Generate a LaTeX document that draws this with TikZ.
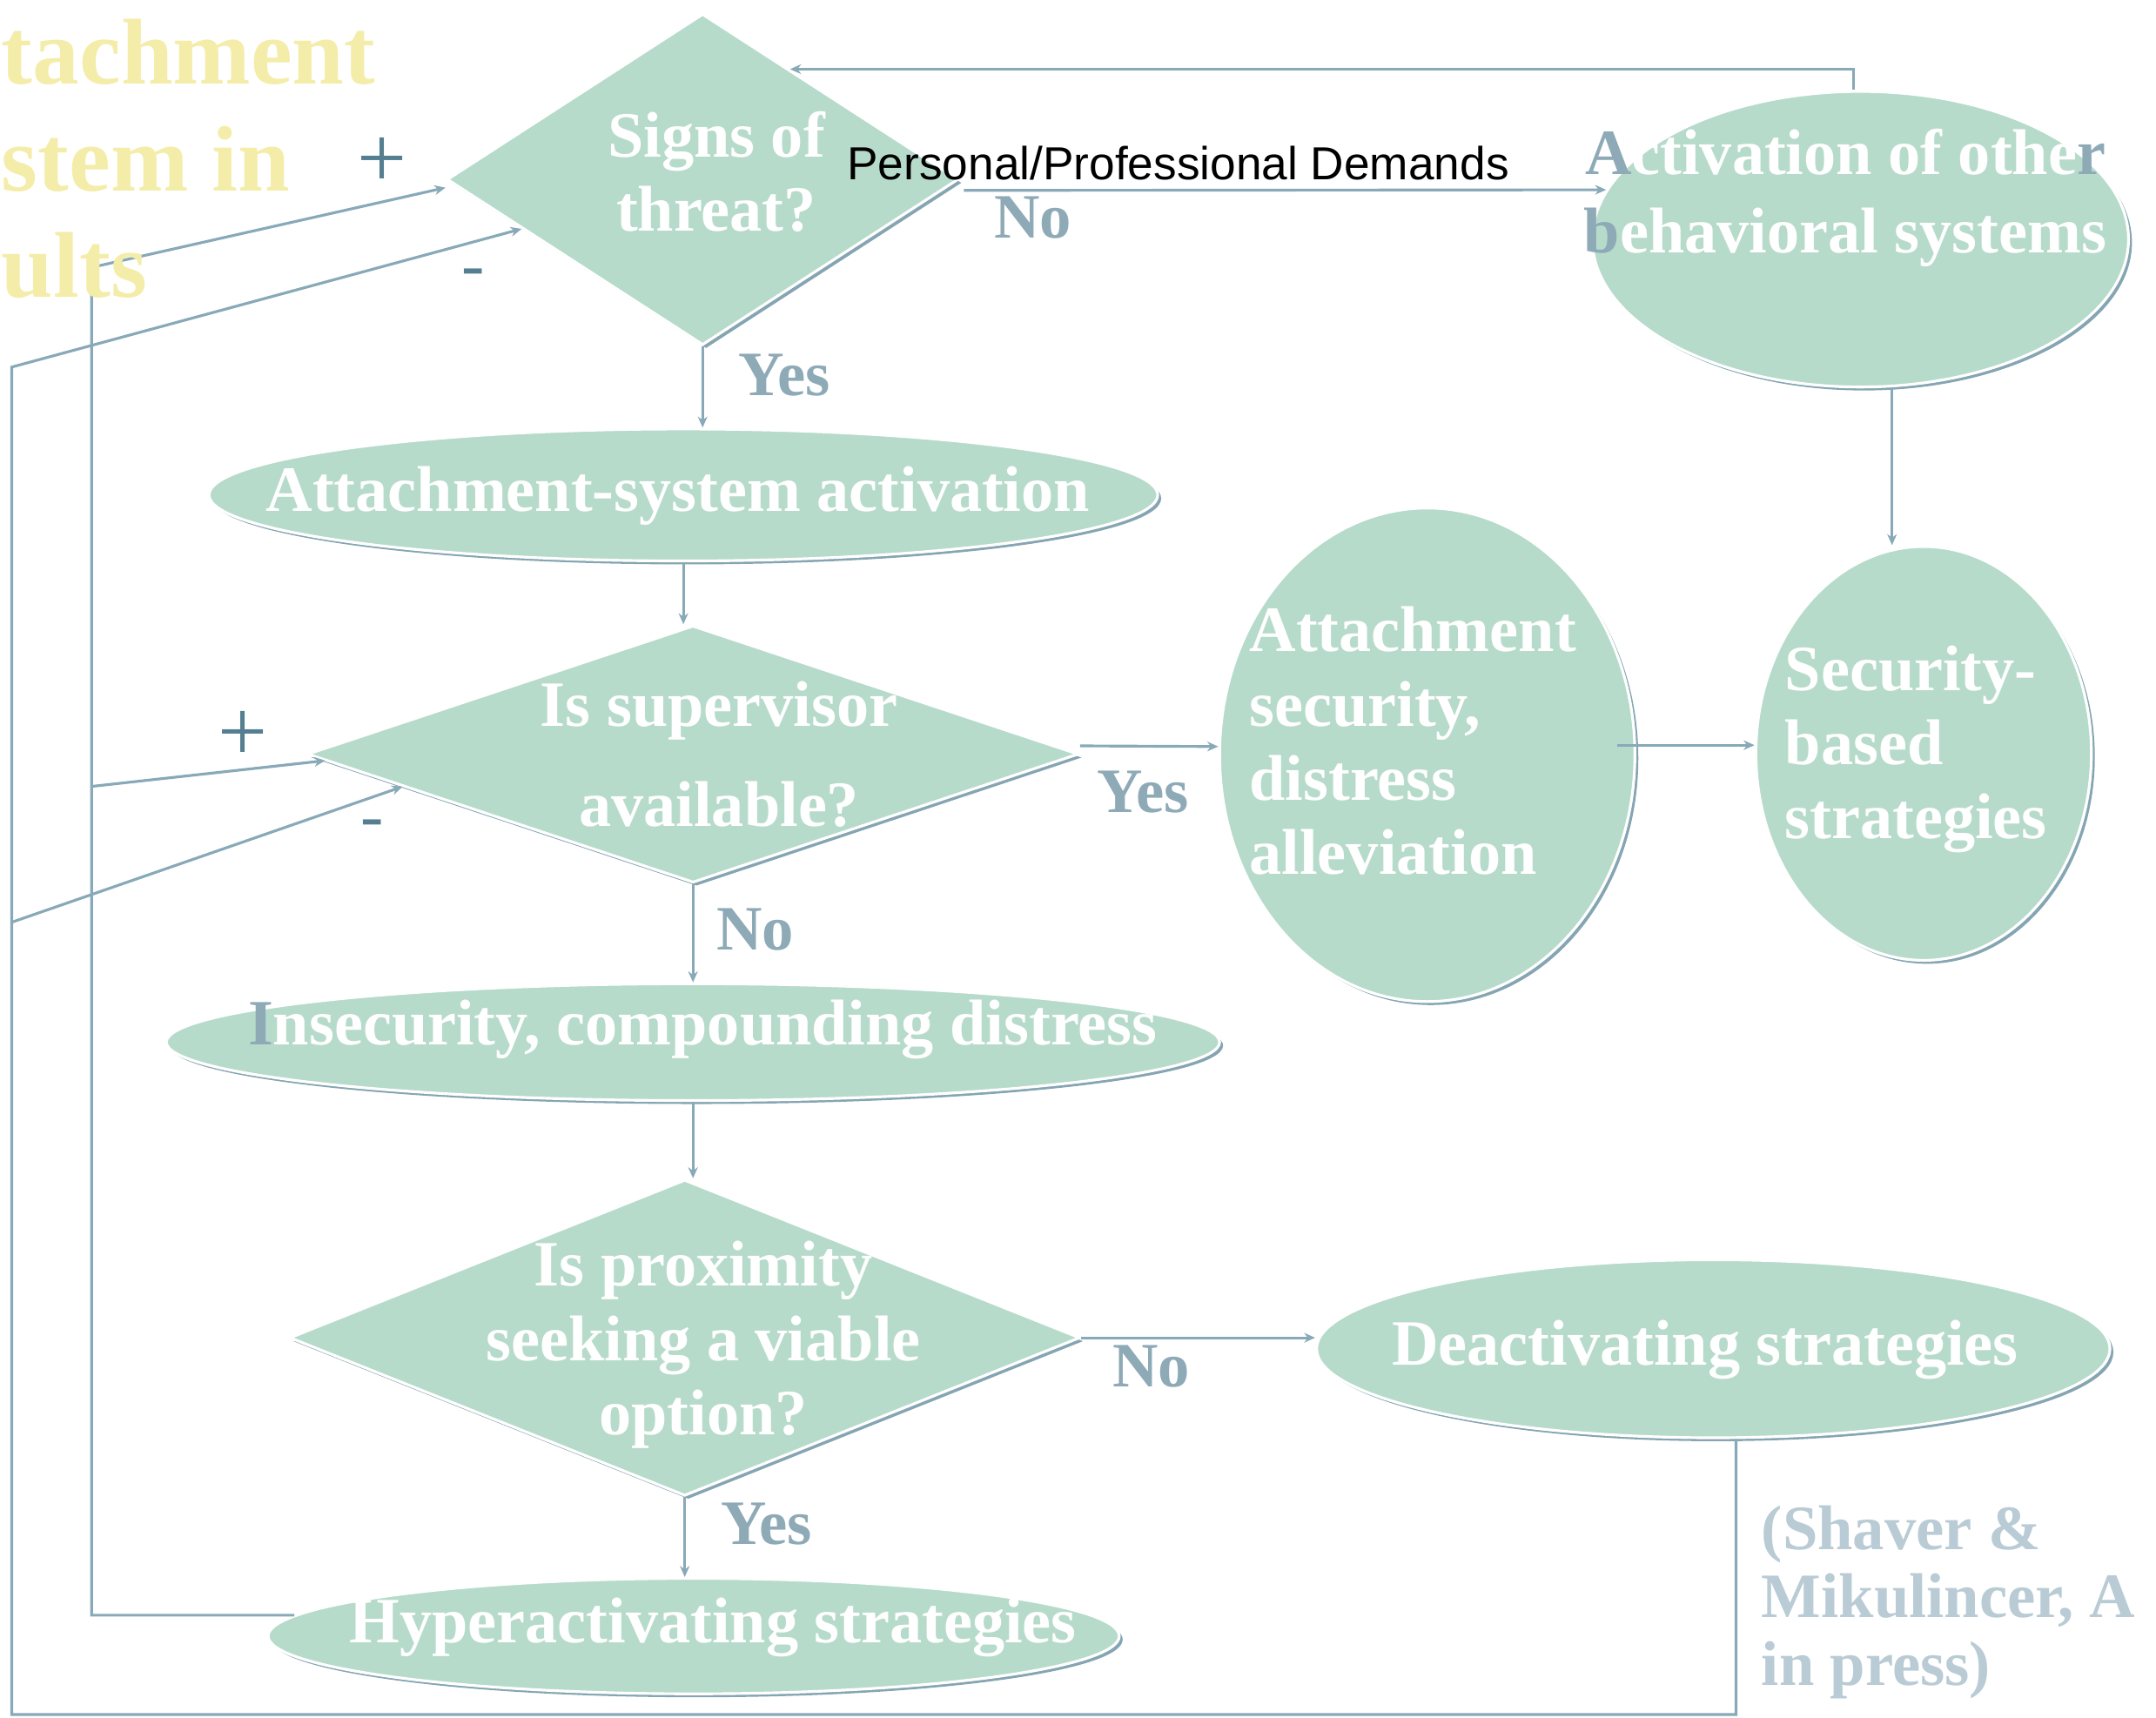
\documentclass[tikz,border=0pt]{standalone}
\usepackage{fontspec}
\setmainfont{Liberation Serif}
\newfontfamily\sansf{Liberation Sans}
\usetikzlibrary{shapes.geometric,shadows,calc,arrows.meta}
\definecolor{fillc}{HTML}{B7DBCB}
\definecolor{shadowc}{HTML}{5C8798}
\definecolor{linec}{HTML}{88A9B7}
\definecolor{labelc}{HTML}{8FAAB7}
\definecolor{signc}{HTML}{557F91}
\definecolor{titlec}{HTML}{F4EDAA}
\definecolor{refc}{HTML}{B9CBD4}
\newcommand{\ls}{\rule[-11pt]{0pt}{54pt}}
\newcommand{\tls}{\rule[-17.5pt]{0pt}{77.5pt}}
\newcommand{\rls}{\rule[-11.5pt]{0pt}{49.5pt}}
% letters that stick out of their shape onto the white page
\newcommand{\outl}[1]{{\color{labelc}#1}}
\tikzset{
  shapebase/.style={fill=fillc, draw=white, line width=2pt, inner sep=0pt,
     drop shadow={shadow xshift=2.5pt, shadow yshift=-2.5pt, fill=shadowc, opacity=0.75}},
  decision/.style={shapebase, diamond},
  stateell/.style={shapebase, ellipse},
  boxtext/.style={text=white, inner sep=0pt, font=\fontsize{47}{54}\selectfont\bfseries},
  ynlabel/.style={text=labelc, inner sep=0pt, anchor=base west, font=\fontsize{46}{54}\selectfont\bfseries},
  signlabel/.style={text=signc, inner sep=0pt, anchor=base},
  conn/.style={draw=linec, line width=2pt, -{Stealth[length=8pt,width=7pt]}},
}
\begin{document}
\begin{tikzpicture}[x=1pt,y=-1pt]
\useasboundingbox (0,0) rectangle (1568,1249);
\clip (0,0) rectangle (1568,1249);

% shapes
\node[decision, minimum width=372pt, minimum height=241pt] (d1) at (511,130.5) {};
\node[stateell, minimum width=690pt, minimum height=96pt] (ell1) at (497,360) {};
\node[decision, minimum width=561pt, minimum height=187pt] (d2) at (504,548.5) {};
\node[stateell, minimum width=766pt, minimum height=85pt] (ins) at (504,758) {};
\node[decision, minimum width=575pt, minimum height=230pt] (d3) at (498,973) {};
\node[stateell, minimum width=619pt, minimum height=84pt] (hyp) at (504.5,1190) {};
\node[stateell, minimum width=577pt, minimum height=129.5pt] (deact) at (1246,981) {};
\node[stateell, minimum width=390pt, minimum height=215pt] (act) at (1353,174) {};
\node[stateell, minimum width=302pt, minimum height=359pt] (attsec) at (1038,549) {};
\node[stateell, minimum width=244pt, minimum height=301pt] (sec) at (1399,548) {};

% free ends of the feedback lines
\coordinate (fbPlus) at (66.6,194.5);
\coordinate (fbPlusB) at (66.6,572);
\coordinate (fbMinus) at (8.5,267);
\coordinate (fbMinusB) at (8.5,1247);
\coordinate (fbMinusC) at (8.5,670.8);

% connectors
\draw[conn] ([shift={(3,8)}]d1.east) -- (act.169.25);
\draw[conn] ([xshift=-5pt]act.north) |- ($(d1.north)!0.34!(d1.east)$);
\draw[conn] (d1.south) -- (d1.south |- ell1.north);
\draw[conn] (ell1.south) -- (ell1.south |- d2.north);
\draw[conn] ([yshift=6pt]d2.east) -- ([yshift=6pt]attsec.west);
\draw[conn] (d2.south) -- (d2.south |- ins.north);
\draw[conn] (ins.south) -- (ins.south |- d3.north);
\draw[conn] (d3.east) -- (d3.east -| deact.west);
\draw[conn] (d3.south) -- (d3.south |- hyp.north);
\draw[conn] ([shift={(-14,-7)}]attsec.east) -- ([yshift=6pt]sec.west);
\draw[conn] ([xshift=23pt]act.south) -- ([xshift=23pt]act.south |- sec.north);
\draw[conn] (hyp.177.25) -| (fbPlus) -- ([yshift=-6pt]d1.west);
\draw[conn] (fbPlusB) -- ($(d2.west)!0.05!(d2.south)$);
\draw[conn] ([xshift=16.5pt]deact.south) |- (fbMinusB) -- (fbMinus) -- ($(d1.west)!0.296!(d1.south)$);
\draw[conn] (fbMinusC) -- ($(d2.west)!0.25!(d2.south)$);

% texts in shapes
\node[boxtext, align=center] (d1t) at (521,125) {\ls Signs of\\\ls threat?};
\node[boxtext] (ell1t) at (493,355.6) {\ls Attachment-system activation};
\node[boxtext, align=center] (d2t) at (523,548.5) {\ls Is supervisor\\[19pt]\ls available?};
\node[boxtext] (inst) at (511,744) {\ls \outl{I}nsecurity, compounding distress};
\node[boxtext, align=center] (d3t) at (511.5,973.5) {\ls Is proximity\\\ls seeking a viable\\\ls option?};
\node[boxtext] (hypt) at (518.5,1179) {\ls Hyperactivating strategies};
\node[boxtext] (deactt) at (1240,976.6) {\ls Deactivating strategies};
\node[boxtext, align=center] (actt) at (1342,139.5) {\ls \outl{A}ctivation of othe\outl{r}\\[3pt]\ls \outl{b}ehavioral systems};
\node[boxtext, align=left, anchor=west] (attsect) at (908.5,539) {\ls Attachment\\\ls security,\\\ls distress\\\ls alleviation};
\node[boxtext, align=left, anchor=west] (sect) at (1298,540) {\ls Security-\\\ls based\\\ls strategies};

% branch labels
\node[ynlabel] (yes1) at (537,288) {Yes};
\node[ynlabel] (no1) at (723,173) {No};
\node[ynlabel] (yes2) at (798,591) {Yes};
\node[ynlabel] (no2) at (521,691) {No};
\node[ynlabel] (no3) at (809,1009) {No};
\node[ynlabel] (yes3) at (524,1123) {Yes};

% signs
\node[signlabel, font=\fontsize{64}{64}\selectfont] (plus1) at (278,136.4) {+};
\node[signlabel, font=\fontsize{50}{50}\selectfont] (minus1) at (344,209) {-};
\node[signlabel, font=\fontsize{64}{64}\selectfont] (plus2) at (176.5,553.4) {+};
\node[signlabel, font=\fontsize{50}{50}\selectfont] (minus2) at (270.5,610) {-};

% title, reference, demands
\node[inner sep=0pt, anchor=west, align=left, text=titlec, font=\fontsize{68}{77.5}\selectfont\bfseries] (title) at (1,117.5) {\tls tachment\\\tls stem in\\\tls ults};
\node[inner sep=0pt, anchor=west, align=left, text=refc, font=\fontsize{46}{49.5}\selectfont\bfseries] (ref) at (1281,1163.25) {\rls (Shaver \&\\\rls Mikulincer, A\\\rls in press)};
\node[inner sep=0pt, anchor=base west, font=\sansf\fontsize{33.7}{40}\selectfont] (demands) at (616,131) {Personal/Professional Demands};
\end{tikzpicture}
\end{document}
